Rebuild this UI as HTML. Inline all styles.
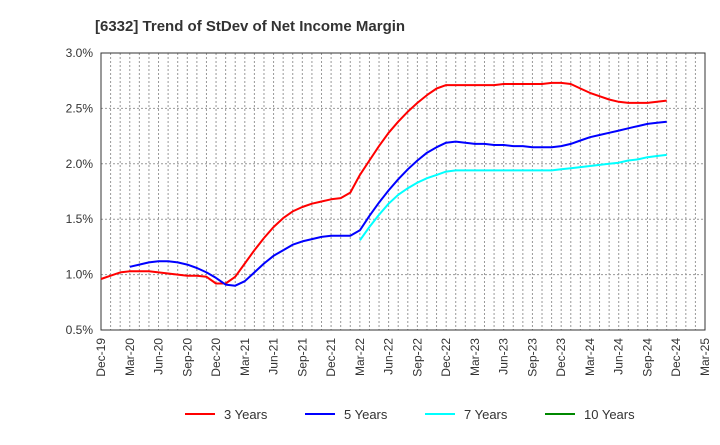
<!DOCTYPE html>
<html><head><meta charset="utf-8"><style>
body{margin:0;background:#fff;font-family:"Liberation Sans",Arial,sans-serif}
svg text{font-family:"Liberation Sans",Arial,sans-serif}
</style></head><body>
<svg id="c" width="720" height="440" xmlns="http://www.w3.org/2000/svg">
<text x="95" y="31" font-size="15" font-weight="bold" fill="#333">[6332]  Trend of StDev of Net Income Margin</text>
<g id="grid"></g><g id="axes"></g><g id="series"></g><g id="legend"></g>
</svg>
<script>
const xLabels=["Dec-19","Mar-20","Jun-20","Sep-20","Dec-20","Mar-21","Jun-21","Sep-21","Dec-21","Mar-22","Jun-22","Sep-22","Dec-22","Mar-23","Jun-23","Sep-23","Dec-23","Mar-24","Jun-24","Sep-24","Dec-24","Mar-25"];
const yTicks=[0.5,1.0,1.5,2.0,2.5,3.0];
const red=[0.96,0.99,1.02,1.03,1.03,1.03,1.02,1.01,1.00,0.99,0.99,0.98,0.92,0.92,0.98,1.10,1.22,1.33,1.43,1.51,1.57,1.61,1.64,1.66,1.68,1.69,1.74,1.90,2.03,2.16,2.28,2.38,2.47,2.55,2.62,2.68,2.71,2.71,2.71,2.71,2.71,2.71,2.72,2.72,2.72,2.72,2.72,2.73,2.73,2.72,2.68,2.64,2.61,2.58,2.56,2.55,2.55,2.55,2.56,2.57];
const blue=[null,null,null,1.07,1.09,1.11,1.12,1.12,1.11,1.09,1.06,1.02,0.97,0.91,0.90,0.94,1.02,1.10,1.17,1.22,1.27,1.30,1.32,1.34,1.35,1.35,1.35,1.40,1.53,1.65,1.76,1.86,1.95,2.03,2.10,2.15,2.19,2.20,2.19,2.18,2.18,2.17,2.17,2.16,2.16,2.15,2.15,2.15,2.16,2.18,2.21,2.24,2.26,2.28,2.30,2.32,2.34,2.36,2.37,2.38];
const cyan=[null,null,null,null,null,null,null,null,null,null,null,null,null,null,null,null,null,null,null,null,null,null,null,null,null,null,null,1.31,1.43,1.54,1.64,1.72,1.78,1.83,1.87,1.90,1.93,1.94,1.94,1.94,1.94,1.94,1.94,1.94,1.94,1.94,1.94,1.94,1.95,1.96,1.97,1.98,1.99,2.00,2.01,2.03,2.04,2.06,2.07,2.08];
const green=[];
const X0=101,X1=705,Y0=330,Y1=53,NM=63;
const xs=i=>X0+(X1-X0)*i/NM;
const ys=v=>Y0-(v-0.5)/2.5*(Y0-Y1);
const NS="http://www.w3.org/2000/svg";
function mk(p,t,a){const e=document.createElementNS(NS,t);for(const k in a)e.setAttribute(k,a[k]);document.getElementById(p).appendChild(e);return e;}
for(let m=1;m<NM;m++){const g=mk('grid','line',{x1:xs(m),x2:xs(m),y1:Y1,y2:Y0,stroke:'#999','stroke-dasharray':'2,2','stroke-width':1});

}
yTicks.forEach(v=>{if(v>0.5&&v<3){const g=mk('grid','line',{x1:X0,x2:X1,y1:ys(v),y2:ys(v),stroke:'#999','stroke-dasharray':'2,2'});

}
const t=mk('axes','text',{x:X0-8,y:ys(v)+4,'text-anchor':'end','font-size':12,fill:'#333'});t.textContent=v.toFixed(1)+'%';

});
const fr=mk('axes','rect',{x:X0,y:Y1,width:X1-X0,height:Y0-Y1,fill:'none',stroke:'#333'});


xLabels.forEach((l,i)=>{const x=xs(i*3);const t=mk('axes','text',{x:x+4,y:Y0+8,'text-anchor':'end','font-size':12,fill:'#333',transform:`rotate(-90 ${x+4} ${Y0+8})`});t.textContent=l;

});
function line(arr,col,name){let d='';arr.forEach((v,i)=>{if(v==null)return;d+=(d?'L':'M')+xs(i).toFixed(1)+','+ys(v).toFixed(1);});
if(!d)return;const p=mk('series','path',{d:d,fill:'none',stroke:col,'stroke-width':2,'stroke-linejoin':'round'});

}
line(red,'#f00','line-3-years');line(blue,'#00f','line-5-years');line(cyan,'#0ff','line-7-years');line(green,'#080','line-10-years');
[['3 Years','#f00',185],['5 Years','#00f',305],['7 Years','#0ff',425],['10 Years','#080',545]].forEach(([n,c,x])=>{
const l=mk('legend','line',{x1:x,x2:x+30,y1:414,y2:414,stroke:c,'stroke-width':2});


const t=mk('legend','text',{x:x+39,y:419,'font-size':13,fill:'#333'});t.textContent=n;

});
</script>
</body></html>
